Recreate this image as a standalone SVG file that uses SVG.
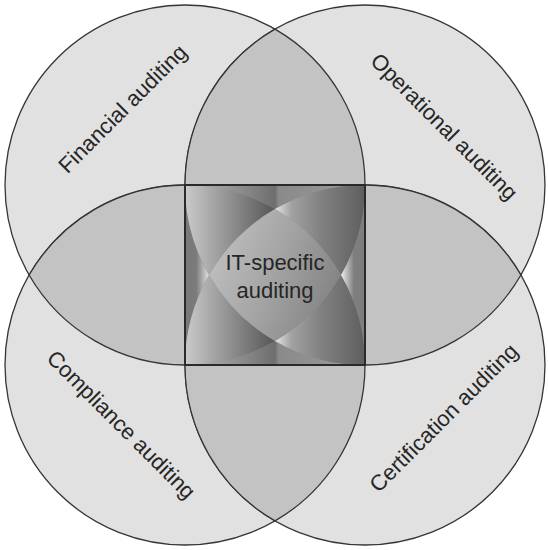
<svg xmlns="http://www.w3.org/2000/svg" width="548" height="550" viewBox="0 0 548 550">
  <style>
    .ring { fill: #e1e1e1; stroke: #353535; stroke-width: 1.3; }
    .lens { fill: #c3c3c3; stroke: #353535; stroke-width: 1.3; }
    .label { font-family: "Liberation Sans", Arial, sans-serif; font-size: 22px; fill: #262626; text-anchor: middle; }
    .frame { fill: none; stroke: #2a2a2a; stroke-width: 2; }
  </style>
  <defs>
    <!-- arm pieces: light on the left tip, dark on the right -->
    <linearGradient id="armTL" x1="0" y1="0" x2="1" y2="0">
      <stop offset="0" stop-color="#cacaca"/>
      <stop offset="1" stop-color="#565656"/>
    </linearGradient>
    <linearGradient id="armR" x1="0" y1="0" x2="1" y2="0">
      <stop offset="0" stop-color="#e6e6e6"/>
      <stop offset="0.18" stop-color="#a2a2a2"/>
      <stop offset="0.5" stop-color="#828282"/>
      <stop offset="1" stop-color="#5e5e5e"/>
    </linearGradient>
    <linearGradient id="core" x1="0" y1="0.3" x2="1" y2="0.7">
      <stop offset="0" stop-color="#c0c0c0"/>
      <stop offset="0.5" stop-color="#a3a3a3"/>
      <stop offset="1" stop-color="#808080"/>
    </linearGradient>
    <linearGradient id="edgeH" x1="0" y1="0" x2="1" y2="0">
      <stop offset="0" stop-color="#bdbdbd"/>
      <stop offset="0.5" stop-color="#6e6e6e"/>
      <stop offset="0.52" stop-color="#8a8a8a"/>
      <stop offset="1" stop-color="#9c9c9c"/>
    </linearGradient>
    <radialGradient id="edgeRight" cx="0" cy="0.5" r="0.55">
      <stop offset="0" stop-color="#eeeeee"/>
      <stop offset="1" stop-color="#7e7e7e"/>
    </radialGradient>
    <radialGradient id="edgeLeft" cx="1" cy="0.5" r="0.55">
      <stop offset="0" stop-color="#e0e0e0"/>
      <stop offset="1" stop-color="#7a7a7a"/>
    </radialGradient>
  </defs>

  <!-- four audit circles -->
  <g id="financial">
    <circle class="ring" cx="185" cy="185" r="180"/>
  </g>
  <g id="operational">
    <circle class="ring" cx="365" cy="185" r="180"/>
  </g>
  <g id="compliance">
    <circle class="ring" cx="185" cy="365" r="180"/>
  </g>
  <g id="certification">
    <circle class="ring" cx="365" cy="365" r="180"/>
  </g>

  <!-- pairwise overlaps -->
  <g id="overlaps">
    <path class="lens" d="M275,29.115 A180,180 0 0,0 275,340.885 A180,180 0 0,0 275,29.115 Z"/>
    <path class="lens" d="M275,209.115 A180,180 0 0,0 275,520.885 A180,180 0 0,0 275,209.115 Z"/>
    <path class="lens" d="M29.115,275 A180,180 0 0,1 340.885,275 A180,180 0 0,1 29.115,275 Z"/>
    <path class="lens" d="M209.115,275 A180,180 0 0,1 520.885,275 A180,180 0 0,1 209.115,275 Z"/>
  </g>

  <!-- circle labels -->
  <g id="labels">
    <text class="label" x="128" y="114" transform="rotate(-45 128 114)">Financial auditing</text>
    <text class="label" x="439" y="132" transform="rotate(45 439 132)">Operational auditing</text>
    <text class="label" x="116" y="430" transform="rotate(45 116 430)">Compliance auditing</text>
    <text class="label" x="449" y="423" transform="rotate(-45 449 423)">Certification auditing</text>
  </g>

  <!-- central square where all four meet -->
  <g id="it-specific">
    <rect x="185" y="185" width="180" height="180" fill="#8c8c8c"/>
    <!-- side pieces -->
    <path fill="url(#edgeH)" d="M185,185 L365,185 A180,180 0 0,0 275,209.115 A180,180 0 0,0 185,185 Z"/>
    <path fill="url(#edgeRight)" d="M365,185 L365,365 A180,180 0 0,0 340.885,275 A180,180 0 0,0 365,185 Z"/>
    <path fill="url(#edgeH)" d="M365,365 L185,365 A180,180 0 0,0 275,340.885 A180,180 0 0,0 365,365 Z"/>
    <path fill="url(#edgeLeft)" d="M185,365 L185,185 A180,180 0 0,0 209.115,275 A180,180 0 0,0 185,365 Z"/>
    <!-- corner arms -->
    <path fill="url(#armTL)" d="M185,185 A180,180 0 0,1 275,209.115 A180,180 0 0,0 209.115,275 A180,180 0 0,1 185,185 Z"/>
    <path fill="url(#armR)" d="M365,185 A180,180 0 0,0 275,209.115 A180,180 0 0,1 340.885,275 A180,180 0 0,0 365,185 Z"/>
    <path fill="url(#armR)" d="M365,365 A180,180 0 0,0 340.885,275 A180,180 0 0,1 275,340.885 A180,180 0 0,0 365,365 Z"/>
    <path fill="url(#armTL)" d="M185,365 A180,180 0 0,1 209.115,275 A180,180 0 0,0 275,340.885 A180,180 0 0,1 185,365 Z"/>
    <!-- middle -->
    <path fill="url(#core)" d="M275,209.115 A180,180 0 0,1 340.885,275 A180,180 0 0,1 275,340.885 A180,180 0 0,1 209.115,275 A180,180 0 0,1 275,209.115 Z"/>
    <rect class="frame" x="185" y="185" width="180" height="180"/>
    <text class="label" x="275" y="270">IT-specific</text>
    <text class="label" x="275" y="298">auditing</text>
  </g>
</svg>
